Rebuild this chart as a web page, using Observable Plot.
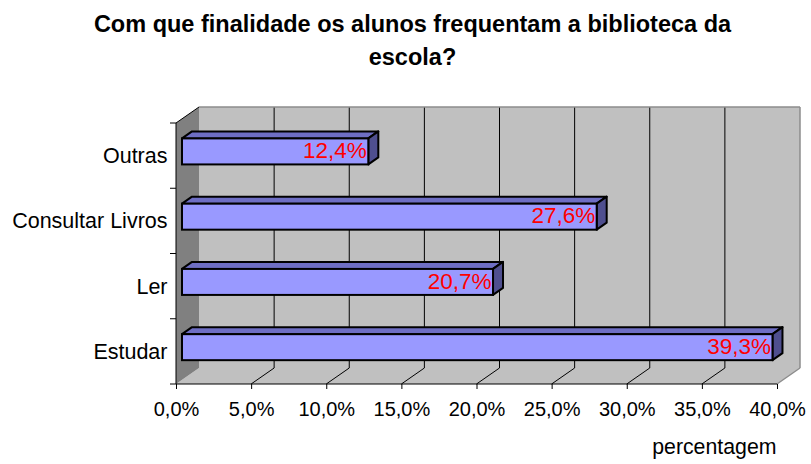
<!DOCTYPE html>
<html><head><meta charset="utf-8">
<script src="https://cdn.jsdelivr.net/npm/d3@7"></script>
<script src="https://cdn.jsdelivr.net/npm/@observablehq/plot@0.6"></script>
<style>
body{margin:0;background:#fff;font-family:"Liberation Sans",Arial,sans-serif;}
#title{height:80px;box-sizing:border-box;padding-top:8px;padding-left:14px;text-align:center;font-weight:bold;font-size:23.5px;line-height:33px;color:#000;white-space:nowrap;}
#chart svg{display:block;}
</style></head><body>
<div id="title">Com que finalidade os alunos frequentam a biblioteca da<br>escola?</div>
<div id="chart"></div>
<script>
const categories = ["Outras", "Consultar Livros", "Ler", "Estudar"];
const values = [12.4, 27.6, 20.7, 39.3];
const valueLabels = ["12,4%", "27,6%", "20,7%", "39,3%"];
const xTicks = [0, 5, 10, 15, 20, 25, 30, 35, 40];
const xTickLabels = ["0,0%", "5,0%", "10,0%", "15,0%", "20,0%", "25,0%", "30,0%", "35,0%", "40,0%"];
const xLabel = "percentagem";

const data = categories.map((c, i) => ({cat: c, value: values[i], label: valueLabels[i]}));

const DX = 23, DY = -16;          // depth of the 3D box
const BOX = 6, BOY = -4.2;        // bar front plane offset
const BDX = 10, BDY = -7;         // bar depth
const BH = 26;                    // bar thickness

function svgEl(tag, attrs) {
  const e = document.createElementNS("http://www.w3.org/2000/svg", tag);
  for (const k in attrs) e.setAttribute(k, attrs[k]);
  return e;
}
function poly(pts, fill, stroke, sw) {
  return svgEl("polygon", {points: pts.map(p => p.join(",")).join(" "), fill, stroke: stroke || "none", "stroke-width": sw || 0, "stroke-linejoin": "round"});
}
function line(x1, y1, x2, y2, stroke, sw) {
  return svgEl("line", {x1, y1, x2, y2, stroke, "stroke-width": sw});
}

function walls(index, scales, vals, dim) {
  const x = scales.x;
  const x0 = x(0), x1 = x(40);
  const yT = dim.marginTop, yB = dim.height - dim.marginBottom;
  const g = svgEl("g", {});
  g.appendChild(poly([[x0 + DX, yT + DY], [x1 + DX, yT + DY], [x1 + DX, yB + DY], [x0 + DX, yB + DY]], "#c0c0c0"));
  g.appendChild(poly([[x0, yB], [x1, yB], [x1 + DX, yB + DY], [x0 + DX, yB + DY]], "#c0c0c0"));
  g.appendChild(poly([[x0, yT], [x0 + DX, yT + DY], [x0 + DX, yB + DY], [x0, yB]], "#808080"));
  for (const t of xTicks) {
    if (t === 0 || t === 40) continue;
    g.appendChild(line(x(t) + DX, yT + DY, x(t) + DX, yB + DY, "#000", 1));
    g.appendChild(line(x(t), yB, x(t) + DX, yB + DY, "#000", 1));
  }
  g.appendChild(line(x0 + DX, yT + DY, x1 + DX, yT + DY, "#8c8c8c", 1.5));
  g.appendChild(line(x1 + DX, yT + DY, x1 + DX, yB + DY, "#8c8c8c", 1.5));
  g.appendChild(line(x1, yB, x1 + DX, yB + DY, "#8c8c8c", 1.5));
  g.appendChild(line(x0, yT, x0 + DX, yT + DY, "#000", 1));
  g.appendChild(line(x0, yT, x0, yB, "#000", 1));
  g.appendChild(line(x0, yB, x1, yB, "#000", 1));
  const n = categories.length;
  for (let i = 0; i <= n; i++) {
    const yy = yT + (yB - yT) * i / n;
    g.appendChild(line(x0 - 6, yy, x0, yy, "#000", 1));
  }
  return g;
}

function faces(index, scales, vals, dim) {
  const x = scales.x, y = scales.y;
  const yT = dim.marginTop, yB = dim.height - dim.marginBottom;
  const bw = y.bandwidth ? y.bandwidth() : (yB - yT) / categories.length;
  const g = svgEl("g", {});
  data.forEach(d => {
    const yc = y(d.cat) + bw / 2 + BOY;
    const top = yc - BH / 2, bot = yc + BH / 2;
    const L = x(0) + BOX, R = x(d.value) + BOX;
    g.appendChild(poly([[L, top], [L + BDX, top + BDY], [R + BDX, top + BDY], [R, top]], "#6e6ec4", "#000", 2));
    g.appendChild(poly([[R, top], [R + BDX, top + BDY], [R + BDX, bot + BDY], [R, bot]], "#4f4f8f", "#000", 2));
  });
  return g;
}

const H = 384, MT = 43, MB = 80;
const bwPx = (H - MT - MB) / categories.length;
const inset = (bwPx - BH) / 2;

const chart = Plot.plot({
  width: 811,
  height: H,
  marginLeft: 176,
  marginRight: 34,
  marginTop: MT,
  marginBottom: MB,
  style: {fontFamily: '"Liberation Sans", Arial, sans-serif', fontSize: "20px", background: "#fff", color: "#000"},
  x: {domain: [0, 40], axis: null},
  y: {domain: categories, type: "band", padding: 0, round: false, axis: null},
  marks: [
    walls,
    faces,
    Plot.barX(data, {x: "value", y: "cat", dx: BOX, dy: BOY, insetTop: inset, insetBottom: inset, fill: "#9999ff", stroke: "#000", strokeWidth: 2}),
    Plot.text(data, {x: "value", y: "cat", text: "label", textAnchor: "end", dx: BOX - 2, dy: BOY - 1, fill: "#ff0000", fontSize: 22.5}),
    Plot.axisX({ticks: xTicks, tickFormat: d => xTickLabels[xTicks.indexOf(d)], tickSize: 5, tickPadding: 12, fontSize: 20, label: null}),
    Plot.axisY({tickSize: 0, tickPadding: 9, fontSize: 21.5, label: null}),
    Plot.text([xLabel], {frameAnchor: "bottom-right", text: d => d, textAnchor: "end", dx: -1, dy: 69, fontSize: 21.3})
  ]
});
document.getElementById("chart").appendChild(chart);
</script>
</body></html>
